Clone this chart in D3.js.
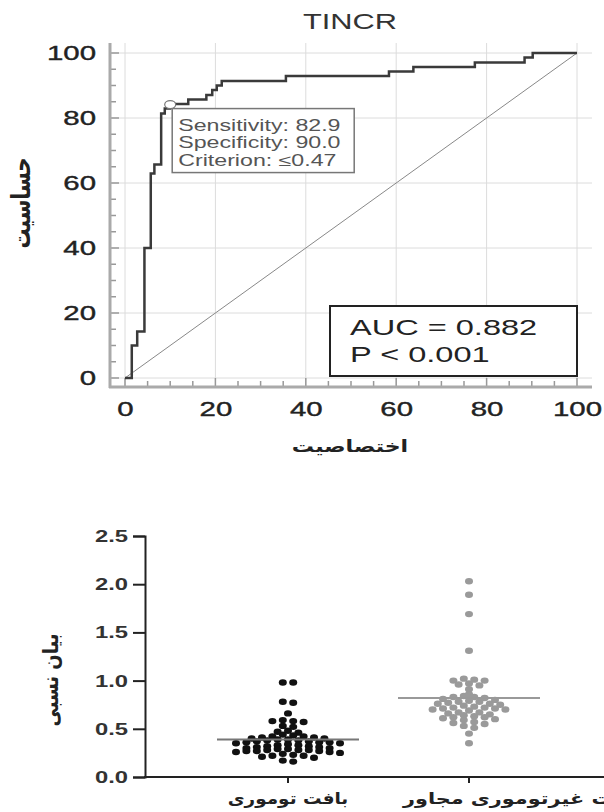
<!DOCTYPE html>
<html>
<head>
<meta charset="utf-8">
<script src="https://cdn.jsdelivr.net/npm/d3@7"></script>
<style>
  body { margin: 0; background: #fff; }
  svg { display: block; }
</style>
</head>
<body>
<svg id="chart" width="604" height="812"></svg>
<script>
// ROC curve: x = 100 - specificity, y = sensitivity (vertex where each step rises)
const rocFpr  = [0, 1.5, 2.7, 4.3, 5.7, 6.5, 8.0, 8.8, 10, 14, 18, 19.3, 20.3, 21.4, 35.6, 58.4, 63.8, 77.4, 88.4, 90.2, 100];
const rocTpr  = [0, 10, 14.3, 40, 62.9, 65.7, 81.4, 82.9, 84.3, 85.7, 87.1, 88.6, 90, 91.4, 92.9, 94.3, 95.7, 97.1, 98.6, 100, 100];
const criterion = [10, 82.9];
const criterionText = ["Sensitivity: 82.9", "Specificity: 90.0", "Criterion: \u22640.47"];
const aucText = ["AUC = 0.882", "P < 0.001"];
const rocTicks = [0, 20, 40, 60, 80, 100];

// relative expression dot plot
const groups = ["بافت توموری", "بافت غیرتوموری مجاور"];
const tumor = [
  0.98, 0.98, 0.78, 0.77, 0.66,
  0.59, 0.58, 0.58, 0.57, 0.53, 0.52,
  0.48, 0.47, 0.46,
  0.44, 0.43, 0.42, 0.42, 0.41, 0.41, 0.40, 0.40,
  0.39, 0.39, 0.38, 0.38, 0.37, 0.37, 0.36, 0.36, 0.36, 0.35, 0.35,
  0.34, 0.33, 0.33, 0.32, 0.32, 0.31, 0.31, 0.30, 0.30,
  0.29, 0.29, 0.28, 0.28, 0.28, 0.27, 0.27, 0.27, 0.26, 0.26, 0.25,
  0.24, 0.23, 0.22, 0.22, 0.21, 0.20,
  0.17, 0.16
];
const normal = [
  2.03, 1.89, 1.69, 1.31,
  1.02, 1.01, 1.00, 1.00, 0.97, 0.96, 0.95, 0.91, 0.86,
  0.84, 0.83, 0.83, 0.82, 0.81, 0.80,
  0.79, 0.78, 0.78, 0.77, 0.76, 0.76, 0.75,
  0.74, 0.73, 0.72, 0.72, 0.71, 0.71, 0.70, 0.70,
  0.69, 0.67, 0.67, 0.66, 0.65,
  0.64, 0.63, 0.62, 0.62, 0.61, 0.60,
  0.59, 0.57, 0.56, 0.55, 0.53, 0.51,
  0.45, 0.35
];
const means = [0.39, 0.82];
const exprTicks = [0, 0.5, 1.0, 1.5, 2.0, 2.5];

const svg = d3.select("#chart");
const latin = "'Liberation Sans', Arial, sans-serif";
const arabic = "'DejaVu Sans', sans-serif";
const SX = 1.4; // source image is stretched horizontally

function stretch(sel, sx) {
  sel.each(function() {
    const t = d3.select(this);
    const x0 = +t.attr("x") || 0, y0 = +t.attr("y") || 0;
    t.attr("x", 0).attr("y", 0)
     .attr("transform", `translate(${x0},${y0}) scale(${sx},1)`);
  });
}

// ---------- ROC chart ----------
const x = d3.scaleLinear().domain([0, 100]).range([125, 577]);
const y = d3.scaleLinear().domain([0, 100]).range([378, 53]);
const pLeft = 110, pBottom = 387, pTop = 43, pRight = 592;

const grid = svg.append("g").attr("stroke", "#dcdcdc").attr("stroke-width", 1);
grid.selectAll(".v").data(rocTicks).enter().append("line")
    .attr("x1", d => x(d)).attr("x2", d => x(d))
    .attr("y1", pTop).attr("y2", pBottom);
grid.selectAll(".h").data(rocTicks).enter().append("line")
    .attr("y1", d => y(d)).attr("y2", d => y(d))
    .attr("x1", pLeft).attr("x2", pRight);

// minor/major ticks pointing inwards
const minor = d3.range(0, 101, 5);
svg.append("g").attr("stroke", "#999").attr("stroke-width", 1.5)
  .selectAll("line").data(minor).enter().append("line")
    .attr("x1", pLeft).attr("x2", d => pLeft + (d % 20 ? 6 : 9))
    .attr("y1", d => y(d)).attr("y2", d => y(d));
svg.append("g").attr("stroke", "#999").attr("stroke-width", 1.5)
  .selectAll("line").data(minor).enter().append("line")
    .attr("y1", pBottom).attr("y2", d => pBottom - (d % 20 ? 6 : 9))
    .attr("x1", d => x(d)).attr("x2", d => x(d));

svg.append("line").attr("x1", pLeft).attr("x2", pLeft).attr("y1", pTop).attr("y2", pBottom + 1)
    .attr("stroke", "#aaa").attr("stroke-width", 3);
svg.append("line").attr("x1", pLeft - 1).attr("x2", pRight).attr("y1", pBottom).attr("y2", pBottom)
    .attr("stroke", "#aaa").attr("stroke-width", 3);

const yAxis = svg.append("g").attr("transform", `translate(${pLeft},0)`)
    .call(d3.axisLeft(y).tickValues(rocTicks).tickSize(0).tickPadding(14));
const xAxis = svg.append("g").attr("transform", `translate(0,${pBottom})`)
    .call(d3.axisBottom(x).tickValues(rocTicks).tickSize(0).tickPadding(14));
[yAxis, xAxis].forEach(a => {
  a.select(".domain").remove();
  a.selectAll("text").attr("font-family", latin).attr("font-size", 21)
      .attr("fill", "#222").attr("stroke", "#222").attr("stroke-width", 0.4);
  a.selectAll("text").each(function() {
    const t = d3.select(this);
    const tx = +t.attr("x") || 0, ty = +t.attr("y") || 0;
    t.attr("x", 0).attr("y", 0).attr("transform", `translate(${tx},${ty}) scale(${SX},1)`);
  });
});

// diagonal reference
svg.append("line")
    .attr("x1", x(0)).attr("y1", y(0)).attr("x2", x(100)).attr("y2", y(100))
    .attr("stroke", "#888").attr("stroke-width", 1);

// ROC curve
const roc = rocFpr.map((d, i) => [d, rocTpr[i]]);
svg.append("path").datum(roc)
    .attr("fill", "none").attr("stroke", "#3a3a3a").attr("stroke-width", 2.5)
    .attr("d", d3.line().x(d => x(d[0])).y(d => y(d[1])).curve(d3.curveStepAfter));

// criterion box
const bx = x(criterion[0]) + 2, by = y(criterion[1]);
svg.append("rect").attr("x", bx).attr("y", by).attr("width", 182).attr("height", 64)
    .attr("fill", "#fff").attr("stroke", "#777").attr("stroke-width", 1.5);
svg.append("g").selectAll("text").data(criterionText).enter().append("text")
    .attr("x", bx + 6).attr("y", (d, i) => by + 22 + i * 17.5)
    .attr("font-family", latin).attr("font-size", 16).attr("fill", "#555")
    .text(d => d)
    .call(stretch, 1.45);
svg.append("ellipse").attr("cx", x(criterion[0])).attr("cy", y(criterion[1]) - 4)
    .attr("rx", 5.5).attr("ry", 4)
    .attr("fill", "#fff").attr("stroke", "#777").attr("stroke-width", 1.2);

// AUC box
const ax2 = x(100), ay2 = y(0) - 2;
svg.append("rect").attr("x", ax2 - 247).attr("y", ay2 - 70).attr("width", 247).attr("height", 70)
    .attr("fill", "#fff").attr("stroke", "#222").attr("stroke-width", 2);
svg.append("g").selectAll("text").data(aucText).enter().append("text")
    .attr("x", ax2 - 227).attr("y", (d, i) => ay2 - 41 + i * 27)
    .attr("font-family", latin).attr("font-size", 22).attr("fill", "#222")
    .text(d => d)
    .call(stretch, 1.48);

svg.append("text").attr("x", 350).attr("y", 29)
    .attr("text-anchor", "middle").attr("font-family", latin).attr("font-size", 22).attr("fill", "#333")
    .text("TINCR").call(stretch, SX);

svg.append("text").attr("x", 350).attr("y", 452)
    .attr("text-anchor", "middle").attr("font-family", arabic).attr("font-weight", "bold")
    .attr("font-size", 17).attr("fill", "#222").text("اختصاصیت").call(stretch, 1.3);
svg.append("text").attr("transform", "translate(30,203) scale(1.3,1) rotate(-90)")
    .attr("text-anchor", "middle").attr("font-family", arabic).attr("font-weight", "bold")
    .attr("font-size", 20).attr("fill", "#222").text("حساسیت");

// ---------- dot plot ----------
const yB = d3.scaleLinear().domain([0, 2.5]).range([777, 536]);
const xB = d3.scalePoint().domain(groups).range([288, 469]);
const axisX0 = 145;

const yAxisB = svg.append("g").attr("transform", `translate(${axisX0},0)`)
    .call(d3.axisLeft(yB).tickValues(exprTicks).tickFormat(d3.format(".1f")).tickSize(12).tickPadding(5));
yAxisB.select(".domain").attr("stroke", "#222").attr("stroke-width", 2);
yAxisB.selectAll(".tick line").attr("stroke", "#222").attr("stroke-width", 2);
yAxisB.selectAll("text").attr("font-family", latin).attr("font-weight", "bold")
    .attr("font-size", 17).attr("fill", "#333")
    .each(function() {
      const t = d3.select(this);
      const tx = +t.attr("x") || 0;
      t.attr("x", 0).attr("transform", `translate(${tx},0) scale(${SX},1)`);
    });

svg.append("line").attr("x1", axisX0 - 1).attr("x2", 604).attr("y1", yB(0)).attr("y2", yB(0))
    .attr("stroke", "#222").attr("stroke-width", 2);
svg.append("g").selectAll("line").data(groups).enter().append("line")
    .attr("x1", d => xB(d)).attr("x2", d => xB(d))
    .attr("y1", yB(0)).attr("y2", yB(0) + 6)
    .attr("stroke", "#222").attr("stroke-width", 2);
svg.append("text").attr("x", xB(groups[0])).attr("y", 804).attr("text-anchor", "middle")
    .attr("font-family", arabic).attr("font-weight", "bold").attr("font-size", 16).attr("fill", "#222")
    .text(groups[0]).call(stretch, 1.15);
svg.append("text").attr("x", 403).attr("y", 804).attr("text-anchor", "start")
    .attr("font-family", arabic).attr("font-weight", "bold").attr("font-size", 16).attr("fill", "#222")
    .text(groups[1]).call(stretch, 1.3);
svg.append("text").attr("transform", "translate(58,680) scale(1.2,1) rotate(-90)")
    .attr("text-anchor", "middle").attr("font-family", arabic).attr("font-weight", "bold")
    .attr("font-size", 18).attr("fill", "#222").text("بیان نسبی");

// Prism-style scatter: values binned into rows, each row spread around the centre
const binSize = 0.05, gap = 10.4, rx = 4.0, ry = 3.2;
function swarm(values, cx) {
  const rows = d3.group(values, v => Math.floor(v / binSize + 1e-6));
  const out = [];
  rows.forEach(vs => {
    const n = vs.length;
    const slots = d3.range(n).map(j => (j - (n - 1) / 2) * gap)
        .sort((a, b) => Math.abs(a) - Math.abs(b) || a - b);
    vs.slice().sort(d3.descending).forEach((v, j) => out.push({x: cx + slots[j], y: yB(v)}));
  });
  return out;
}

[[tumor, "#111"], [normal, "#9a9a9a"]].forEach(([vals, col], i) => {
  const cx = xB(groups[i]);
  svg.append("g").selectAll("ellipse").data(swarm(vals, cx)).enter().append("ellipse")
      .attr("cx", d => d.x).attr("cy", d => d.y).attr("rx", rx).attr("ry", ry)
      .attr("fill", col);
  svg.append("line")
      .attr("x1", cx - 71).attr("x2", cx + 71)
      .attr("y1", yB(means[i])).attr("y2", yB(means[i]))
      .attr("stroke", i ? "#999" : "#777").attr("stroke-width", 2);
});
</script>
</body>
</html>
